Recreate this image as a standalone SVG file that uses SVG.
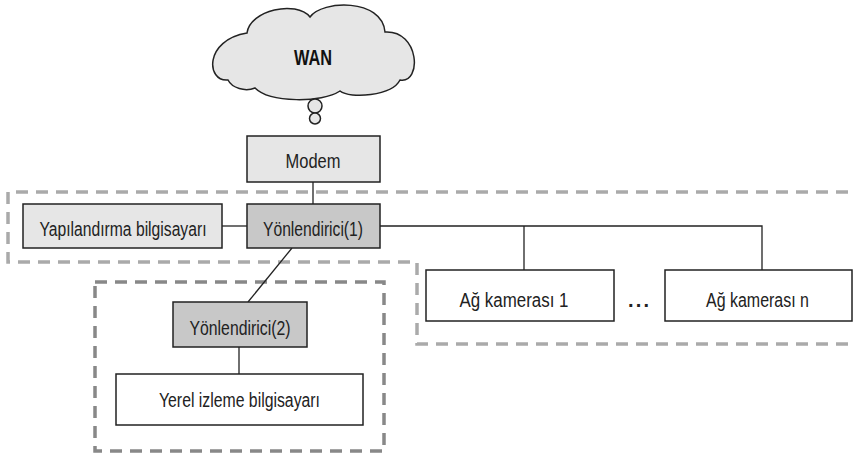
<svg xmlns="http://www.w3.org/2000/svg" width="854" height="453" viewBox="0 0 854 453">
<style>
.box{stroke:#222;stroke-width:1.5}
.light{fill:#e6e6e6}
.dark{fill:#c8c8c8}
.white{fill:#fff}
.t{font-family:"Liberation Sans",Arial,sans-serif;font-size:20px;fill:#222;text-anchor:middle}
.wan{font-family:"Liberation Sans",Arial,sans-serif;font-size:22px;font-weight:bold;fill:#111;text-anchor:middle}
.conn{stroke:#222;stroke-width:1.3;fill:none}
.zone1{fill:none;stroke:#aaa;stroke-width:3.5;stroke-dasharray:12 8}
.zone2{fill:none;stroke:#888;stroke-width:3.5;stroke-dasharray:12 8}
</style>
<rect width="854" height="453" fill="#fff"/>
<g id="zones">
<path class="zone1" d="M848,192 H8 V262 H417 V344 H848"/>
<rect class="zone2" x="95" y="282" width="289" height="169"/>
</g>
<g id="connectors">
<line class="conn" x1="313" y1="182" x2="313" y2="204"/>
<line class="conn" x1="222" y1="226" x2="247" y2="226"/>
<polyline class="conn" points="380,226 762,226 762,270"/>
<line class="conn" x1="524" y1="226" x2="524" y2="270"/>
<line class="conn" x1="292" y1="248" x2="248" y2="302"/>
<line class="conn" x1="239" y1="347" x2="239" y2="374"/>
</g>
<g id="wan">
<path class="box light" d="M228,80 C206,82 204,40 247,33 C250,10 296,0 310,17 C322,0 382,-2 385,32 C420,30 422,84 400,80 C392,96 350,99 340,91 C322,103 270,103 255,88 C245,92 232,88 228,80 Z"/>
<circle class="box light" cx="315" cy="106" r="7"/>
<circle class="box light" cx="315" cy="118.5" r="5.5"/>
<text class="wan" x="313" y="65" textLength="38" lengthAdjust="spacingAndGlyphs">WAN</text>
</g>
<g id="modem">
<rect class="box light" x="247" y="136" width="133" height="46"/>
<text class="t" x="313" y="168" textLength="55" lengthAdjust="spacingAndGlyphs">Modem</text>
</g>
<g id="config-pc">
<rect class="box light" x="23" y="204" width="199" height="44"/>
<text class="t" x="123" y="236" textLength="167" lengthAdjust="spacingAndGlyphs">Yapılandırma bilgisayarı</text>
</g>
<g id="router1">
<rect class="box dark" x="247" y="204" width="133" height="44"/>
<text class="t" x="313" y="236" textLength="100" lengthAdjust="spacingAndGlyphs">Yönlendirici(1)</text>
</g>
<g id="router2">
<rect class="box dark" x="173" y="302" width="134" height="45"/>
<text class="t" x="240" y="335" textLength="101" lengthAdjust="spacingAndGlyphs">Yönlendirici(2)</text>
</g>
<g id="local-pc">
<rect class="box white" x="116" y="374" width="247" height="51"/>
<text class="t" x="239.5" y="407" textLength="161" lengthAdjust="spacingAndGlyphs">Yerel izleme bilgisayarı</text>
</g>
<g id="camera1">
<rect class="box white" x="426" y="270" width="188" height="51"/>
<text class="t" x="514" y="307" textLength="109" lengthAdjust="spacingAndGlyphs">Ağ kamerası 1</text>
</g>
<g id="ellipsis">
<text class="t" x="638.5" y="307" textLength="21" lengthAdjust="spacing" style="font-weight:bold">...</text>
</g>
<g id="cameran">
<rect class="box white" x="665" y="270" width="187" height="51"/>
<text class="t" x="757.5" y="307" textLength="103" lengthAdjust="spacingAndGlyphs">Ağ kamerası n</text>
</g>
</svg>
